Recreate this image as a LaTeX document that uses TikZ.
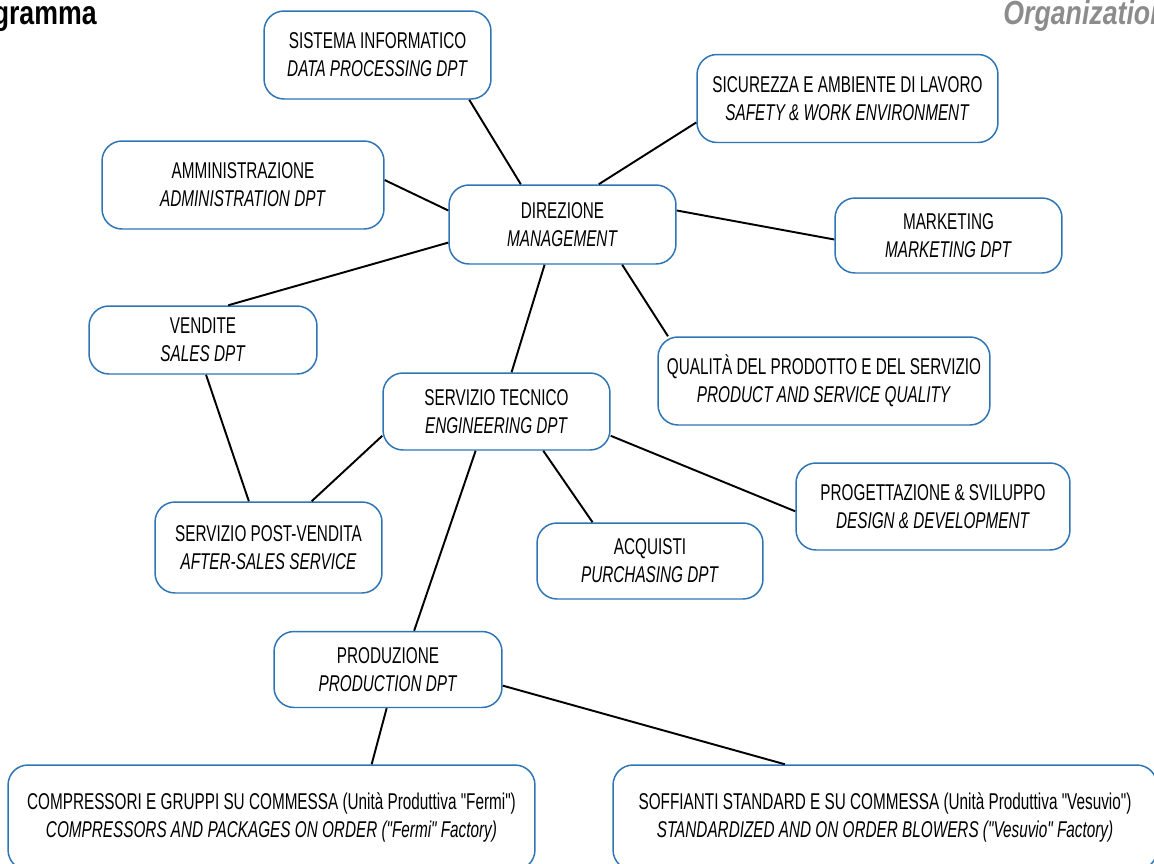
\documentclass[tikz,border=0pt]{standalone}
\usepackage{fontspec}
\setmainfont[FakeStretch=0.67, Ligatures=TeXOff]{Liberation Sans}
\newfontfamily\titlefont[FakeStretch=0.8]{Liberation Sans}
\definecolor{boxblue}{RGB}{46,117,182}
\definecolor{titlegrey}{RGB}{140,140,140}
\begin{document}
\begin{tikzpicture}[x=0.02cm, y=-0.02cm,
    unit/.style={draw=boxblue, line width=0.85pt, rounded corners=0.4cm, fill=white,
      align=center, inner sep=0pt, font=\fontsize{13}{16}\selectfont},
    link/.style={black, line width=1.1pt}]
    \useasboundingbox (0,0) rectangle (1154,863);
    \clip (0,0) rectangle (1154,863);
    \node [anchor=north east, inner sep=0pt, font=\titlefont\bfseries\fontsize{19}{22}\selectfont] (title) at (97,0) {Organigramma};
    \node [anchor=north west, inner sep=0pt, text=titlegrey, font=\titlefont\bfseries\itshape\fontsize{19}{22}\selectfont] (subtitle) at (1003,0) {Organization};
    \node [unit, minimum width=4.54cm, minimum height=1.76cm] (sis) at (377.5,55) {SISTEMA INFORMATICO\\ \textit{DATA PROCESSING DPT}};
    \node [unit, minimum width=6.02cm, minimum height=1.76cm] (sic) at (847.5,98.5) {SICUREZZA E AMBIENTE DI LAVORO\\ \textit{SAFETY \& WORK ENVIRONMENT}};
    \node [unit, minimum width=5.64cm, minimum height=1.76cm] (amm) at (243,185) {AMMINISTRAZIONE\\ \textit{ADMINISTRATION DPT}};
    \node [unit, minimum width=4.54cm, minimum height=1.58cm] (dir) at (562.5,224.5) {DIREZIONE\\ \textit{MANAGEMENT}};
    \node [unit, minimum width=4.54cm, minimum height=1.5cm] (mkt) at (948.5,235.5) {MARKETING\\ \textit{MARKETING DPT}};
    \node [unit, minimum width=4.56cm, minimum height=1.36cm] (ven) at (203,340) {VENDITE\\ \textit{SALES DPT}};
    \node [unit, minimum width=6.64cm, minimum height=1.76cm] (qua) at (824,381) {QUALITÀ DEL PRODOTTO E DEL SERVIZIO\\ \textit{PRODUCT AND SERVICE QUALITY}};
    \node [unit, minimum width=4.54cm, minimum height=1.54cm] (st) at (496.5,411.5) {SERVIZIO TECNICO\\ \textit{ENGINEERING DPT}};
    \node [unit, minimum width=5.48cm, minimum height=1.74cm] (pro) at (933,506.5) {PROGETTAZIONE \& SVILUPPO\\ \textit{DESIGN \& DEVELOPMENT}};
    \node [unit, minimum width=4.54cm, minimum height=1.82cm] (pv) at (268.5,547.5) {SERVIZIO POST-VENDITA\\ \textit{AFTER-SALES SERVICE}};
    \node [unit, minimum width=4.52cm, minimum height=1.52cm] (acq) at (650,561) {ACQUISTI\\ \textit{PURCHASING DPT}};
    \node [unit, minimum width=4.56cm, minimum height=1.52cm] (prod) at (388,669.5) {PRODUZIONE\\ \textit{PRODUCTION DPT}};
    \node [unit, minimum width=10.54cm, minimum height=2.1cm] (comp) at (271.5,817.5) {COMPRESSORI E GRUPPI SU COMMESSA (Unità Produttiva "Fermi")\\ \textit{COMPRESSORS AND PACKAGES ON ORDER ("Fermi" Factory)}};
    \node [unit, minimum width=10.88cm, minimum height=2.1cm] (soff) at (885,817.5) {SOFFIANTI STANDARD E SU COMMESSA (Unità Produttiva "Vesuvio")\\ \textit{STANDARDIZED AND ON ORDER BLOWERS ("Vesuvio" Factory)}};
    \draw [link] (sis.-26) -- (dir.136);
    \draw [link] (sic.189) -- (dir.48);
    \draw [link] (amm.2) -- (dir.173);
    \draw [link] (dir.7) -- (mkt.182);
    \draw [link] (dir.189) -- (ven.54);
    \draw [link] (dir.-34) -- (qua.164);
    \draw [link] (dir.-114) -- (st.69);
    \draw [link] (ven.-85) -- (pv.113);
    \draw [link] (st.192) -- (pv.47);
    \draw [link] (st.-12) -- (pro.182);
    \draw [link] (st.-40) -- (acq.146);
    \draw [link] (st.-118) -- (prod.56);
    \draw [link] (prod.-92) -- (comp.28);
    \draw [link] (prod.-8) -- (soff.152);
\end{tikzpicture}
\end{document}
